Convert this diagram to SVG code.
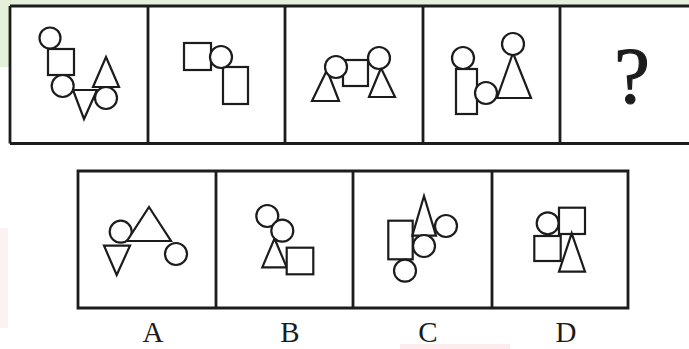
<svg xmlns="http://www.w3.org/2000/svg" width="689" height="349" viewBox="0 0 689 349">
<style>
.frame{fill:none;stroke:#1c1c1c;stroke-width:2.8}
.s{fill:#ffffff;stroke:#1c1c1c;stroke-width:2.2;stroke-linejoin:miter}
.lbl{font-family:"Liberation Serif","Times New Roman",serif;font-size:29px;fill:#1c1c1c;text-anchor:middle}
.q{font-family:"Liberation Serif","Times New Roman",serif;font-size:80px;fill:#1c1c1c;stroke:#1c1c1c;stroke-width:1.2;text-anchor:middle}
</style>
<rect x="0" y="0" width="689" height="349" fill="#ffffff"/>
<g id="bg">
<rect x="0" y="0" width="689" height="6" fill="#e4f0da"/>
<rect x="0" y="0" width="10" height="67" fill="#e4f0da"/>
<rect x="0" y="228" width="8" height="100" fill="#fdf2f2"/>
<rect x="400" y="344" width="110" height="5" fill="#fcecee"/>
</g>
<g id="top-row">
<path class="frame" d="M10 6 H689 M10 143.5 H689 M10 6 V143.5 M148 6 V143.5 M285 6 V143.5 M423 6 V143.5 M560 6 V143.5"/>
</g>
<g id="panel1">
<rect class="s" x="48" y="49" width="26" height="26"/>
<circle class="s" cx="50" cy="38" r="10.5"/>
<polygon class="s" points="73,90 97,90 84,119"/>
<circle class="s" cx="62.7" cy="86" r="11"/>
<polygon class="s" points="106,57 119,87 93,87"/>
<circle class="s" cx="106" cy="98" r="11"/>
</g>
<g id="panel2">
<rect class="s" x="184" y="43" width="27" height="27"/>
<rect class="s" x="223" y="67" width="25" height="37"/>
<circle class="s" cx="221" cy="57" r="11"/>
</g>
<g id="panel3">
<polygon class="s" points="327,70 339,101 312,101"/>
<rect class="s" x="343" y="60" width="25" height="26"/>
<circle class="s" cx="336" cy="67" r="11"/>
<polygon class="s" points="381,68 395,97 369,97"/>
<circle class="s" cx="379" cy="58" r="11"/>
</g>
<g id="panel4">
<rect class="s" x="456" y="69" width="21" height="45"/>
<circle class="s" cx="463" cy="58" r="11"/>
<polygon class="s" points="513,53 531,98 497,98"/>
<circle class="s" cx="486" cy="93" r="11"/>
<circle class="s" cx="513" cy="44" r="11"/>
</g>
<g id="panel5">
<text class="q" x="632" y="103">?</text>
</g>
<g id="bottom-row">
<path class="frame" d="M78 171 H628 V308 H78 Z M216 171 V308 M353 171 V308 M492 171 V308"/>
</g>
<g id="optionA">
<circle class="s" cx="120.7" cy="231.7" r="11"/>
<polygon class="s" points="149,207 171,241 127,241"/>
<polygon class="s" points="104,245.7 130,245.7 116.7,275"/>
<circle class="s" cx="176" cy="254" r="11"/>
<text class="lbl" x="153" y="341.5">A</text>
</g>
<g id="optionB">
<polygon class="s" points="274.5,238.5 286.7,267.3 262.3,267.3"/>
<circle class="s" cx="267.3" cy="216" r="11"/>
<circle class="s" cx="282.3" cy="230.7" r="11"/>
<rect class="s" x="286.7" y="247.7" width="26.6" height="26.6"/>
<text class="lbl" x="290" y="341.5">B</text>
</g>
<g id="optionC">
<rect class="s" x="388.3" y="220.7" width="24.4" height="38.6"/>
<polygon class="s" points="424,196 436,235.7 412.3,235.7"/>
<circle class="s" cx="446" cy="226" r="11"/>
<circle class="s" cx="424" cy="246" r="11"/>
<circle class="s" cx="405" cy="270.7" r="11"/>
<text class="lbl" x="428" y="341.5">C</text>
</g>
<g id="optionD">
<circle class="s" cx="547.7" cy="223.3" r="11"/>
<rect class="s" x="559" y="207.7" width="26" height="26.3"/>
<rect class="s" x="534.3" y="236" width="26.4" height="25"/>
<polygon class="s" points="571.7,233.3 585,271.7 559,271.7"/>
<text class="lbl" x="566" y="341.5">D</text>
</g>
</svg>
